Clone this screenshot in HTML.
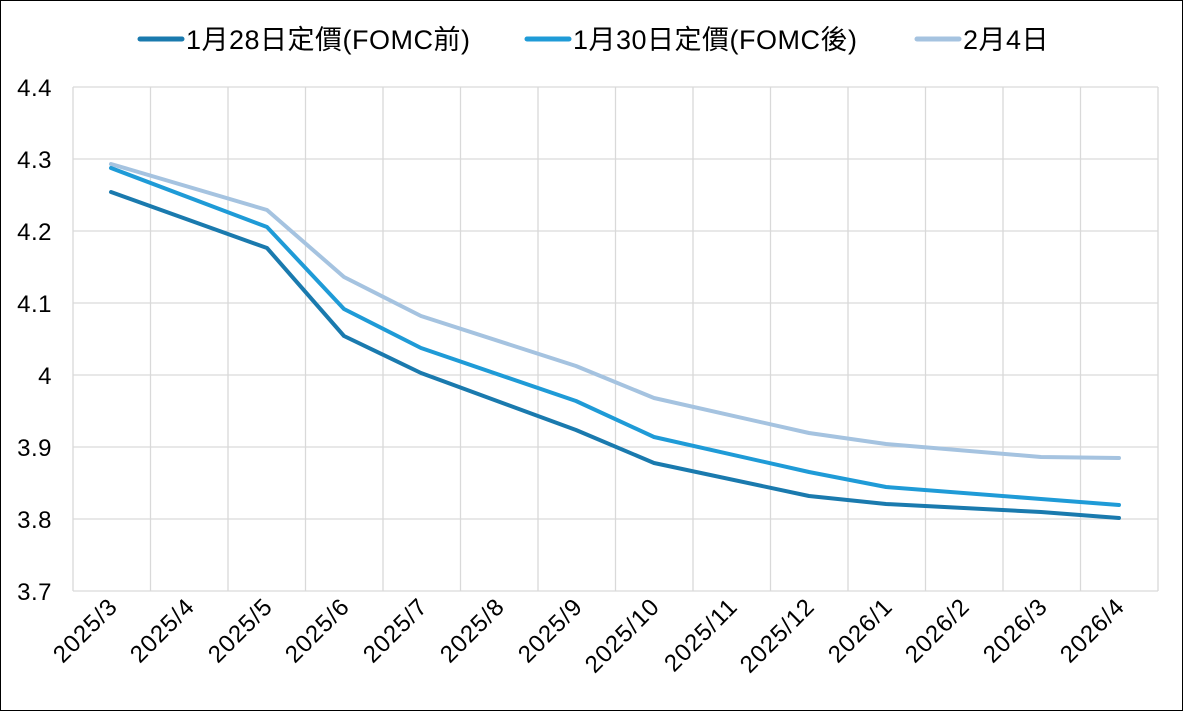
<!DOCTYPE html>
<html><head><meta charset="utf-8"><style>
body{margin:0;background:#fff}
svg{display:block}
text{font-family:"Liberation Sans","Noto Sans CJK TC",sans-serif;fill:#000}
</style></head><body>
<svg width="1183" height="711" viewBox="0 0 1183 711">
<rect x="0.5" y="0.5" width="1182" height="710" fill="#fff" stroke="#000"/>
<g stroke="#d9d9d9" stroke-width="1.3">
<line x1="73" y1="87" x2="1158" y2="87"/><line x1="73" y1="159" x2="1158" y2="159"/>
<line x1="73" y1="231" x2="1158" y2="231"/><line x1="73" y1="303" x2="1158" y2="303"/>
<line x1="73" y1="375" x2="1158" y2="375"/><line x1="73" y1="447" x2="1158" y2="447"/>
<line x1="73" y1="519" x2="1158" y2="519"/><line x1="73" y1="591" x2="1158" y2="591"/>
<line x1="73" y1="87" x2="73" y2="591"/><line x1="150.5" y1="87" x2="150.5" y2="591"/>
<line x1="228" y1="87" x2="228" y2="591"/><line x1="305.5" y1="87" x2="305.5" y2="591"/>
<line x1="383" y1="87" x2="383" y2="591"/><line x1="460.5" y1="87" x2="460.5" y2="591"/>
<line x1="538" y1="87" x2="538" y2="591"/><line x1="615.5" y1="87" x2="615.5" y2="591"/>
<line x1="693" y1="87" x2="693" y2="591"/><line x1="770.5" y1="87" x2="770.5" y2="591"/>
<line x1="848" y1="87" x2="848" y2="591"/><line x1="925.5" y1="87" x2="925.5" y2="591"/>
<line x1="1003" y1="87" x2="1003" y2="591"/><line x1="1080.5" y1="87" x2="1080.5" y2="591"/>
<line x1="1158" y1="87" x2="1158" y2="591"/>
</g>
<g font-size="24" text-anchor="end" letter-spacing="0.5">
<text x="52" y="96">4.4</text><text x="52" y="168">4.3</text><text x="52" y="240">4.2</text>
<text x="52" y="312">4.1</text><text x="52" y="384">4</text><text x="52" y="456">3.9</text>
<text x="52" y="528">3.8</text><text x="52" y="600">3.7</text>
</g>
<g font-size="24" text-anchor="end" letter-spacing="1">
<text transform="translate(119,608) rotate(-45)">2025/3</text>
<text transform="translate(196,608) rotate(-45)">2025/4</text>
<text transform="translate(274,608) rotate(-45)">2025/5</text>
<text transform="translate(351,608) rotate(-45)">2025/6</text>
<text transform="translate(429,608) rotate(-45)">2025/7</text>
<text transform="translate(506,608) rotate(-45)">2025/8</text>
<text transform="translate(584,608) rotate(-45)">2025/9</text>
<text transform="translate(661,608) rotate(-45)">2025/10</text>
<text transform="translate(739,608) rotate(-45)">2025/11</text>
<text transform="translate(816,608) rotate(-45)">2025/12</text>
<text transform="translate(894,608) rotate(-45)">2026/1</text>
<text transform="translate(971,608) rotate(-45)">2026/2</text>
<text transform="translate(1049,608) rotate(-45)">2026/3</text>
<text transform="translate(1126,608) rotate(-45)">2026/4</text>
</g>
<g fill="none" stroke-width="4" stroke-linejoin="round" stroke-linecap="round">
<polyline stroke="#a5c3e0" points="111,164 267,210 344,277 421,316 576,366 654,398 809,433 886,444 1041,457 1119,458"/>
<polyline stroke="#1f9bd7" points="111,168 267,227 344,309 421,348 576,401 654,437 809,472 886,487 1041,499 1119,505"/>
<polyline stroke="#1a7aae" points="111,192 267,248 344,336 421,373 576,430 654,463 809,496 886,504 1041,512 1119,518"/>
</g>
<g stroke-width="5" stroke-linecap="round">
<line x1="140" y1="39" x2="182" y2="39" stroke="#1a7aae"/>
<line x1="527" y1="39" x2="569" y2="39" stroke="#1f9bd7"/>
<line x1="917" y1="39" x2="959" y2="39" stroke="#a5c3e0"/>
</g>
<g font-size="27" letter-spacing="0.5">
<text x="186" y="49">1月28日定價(FOMC前)</text>
<text x="573" y="49">1月30日定價(FOMC後)</text>
<text x="963" y="49">2月4日</text>
</g>
</svg>
</body></html>
